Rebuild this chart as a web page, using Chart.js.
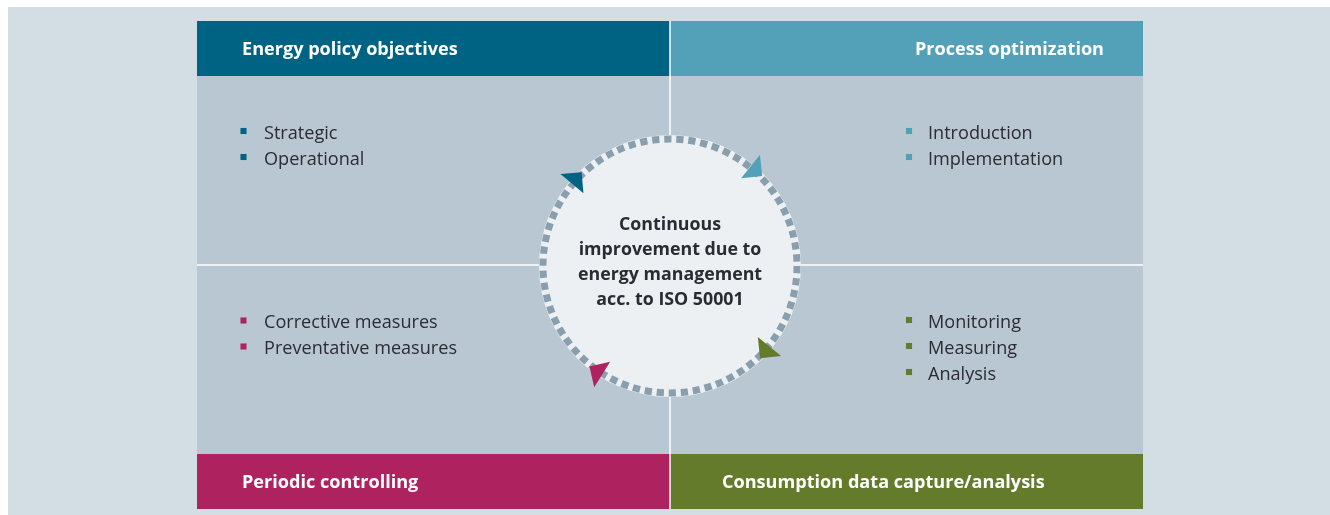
<!DOCTYPE html>
<html>
<head>
<meta charset="utf-8">
<script src="https://cdn.jsdelivr.net/npm/chart.js@4.4.1/dist/chart.umd.min.js"></script>
<style>
  body { margin: 0; background: #ffffff; overflow: hidden; }
  #wrap { width: 1330px; height: 515px; }
</style>
</head>
<body>
<div id="wrap"><canvas id="cycle" width="1330" height="515"></canvas></div>
<script>
// Quadrant titles (top-left, top-right, bottom-left, bottom-right)
const headers = ['Energy policy objectives', 'Process optimization', 'Periodic controlling', 'Consumption data capture/analysis'];
const headerColors = ['#006384', '#52a1b9', '#ae2260', '#647b2c'];

// Bullet items per quadrant
const itemsTopLeft = ['Strategic', 'Operational'];
const itemsTopRight = ['Introduction', 'Implementation'];
const itemsBottomLeft = ['Corrective measures', 'Preventative measures'];
const itemsBottomRight = ['Monitoring', 'Measuring', 'Analysis'];

// Centre text
const centerLines = ['Continuous', 'improvement due to', 'energy management', 'acc. to ISO 50001'];

// Layout (pixels in scale units)
const L = {
  bgLeft: 8, bgTop: 7,
  left: 197, right: 1143, top: 21, bottom: 509, midX: 670, midY: 265, headH: 55,
  cx: 670, cy: 266, fillR: 131, ringR: 127,
  lineH: 26
};
// where each quadrant list starts: marker x, text x, first marker y
const listPos = [
  { mx: 243.5, tx: 264, y: 131 },
  { mx: 909, tx: 928, y: 131 },
  { mx: 243.5, tx: 264, y: 320.5 },
  { mx: 909, tx: 928, y: 320 }
];
// arrow head on the ring for each quadrant (degrees, screen coords, clockwise flow)
const arrowAngles = [220, 309, 122, 39];

const lists = [itemsTopLeft, itemsTopRight, itemsBottomLeft, itemsBottomRight];

const datasets = lists.map(function (items, q) {
  return {
    label: headers[q],
    data: items.map(function (t, i) { return { x: listPos[q].mx, y: listPos[q].y + i * L.lineH, text: t }; }),
    pointStyle: 'rect',
    pointRadius: 4.3,
    backgroundColor: headerColors[q],
    borderWidth: 0,
    showLine: false
  };
});

const diagramPlugin = {
  id: 'diagram',
  beforeDatasetsDraw(chart) {
    const ctx = chart.ctx;
    const xs = chart.scales.x, ys = chart.scales.y;
    const px = v => xs.getPixelForValue(v);
    const py = v => ys.getPixelForValue(v);
    ctx.save();
    // page background
    ctx.fillStyle = '#ffffff';
    ctx.fillRect(0, 0, chart.width, chart.height);
    ctx.fillStyle = '#d3dee4';
    ctx.fillRect(px(L.bgLeft), py(L.bgTop), px(1330) - px(L.bgLeft), py(515) - py(L.bgTop));
    // panel
    ctx.fillStyle = '#b9c7d2';
    ctx.fillRect(px(L.left), py(L.top), px(L.right) - px(L.left), py(L.bottom) - py(L.top));
    // header bars
    const boxes = [
      [L.left, L.top, L.midX, L.top + L.headH],
      [L.midX, L.top, L.right, L.top + L.headH],
      [L.left, L.bottom - L.headH, L.midX, L.bottom],
      [L.midX, L.bottom - L.headH, L.right, L.bottom]
    ];
    boxes.forEach(function (b, i) {
      ctx.fillStyle = headerColors[i];
      ctx.fillRect(px(b[0]), py(b[1]), px(b[2]) - px(b[0]), py(b[3]) - py(b[1]));
    });
    // white dividers
    ctx.strokeStyle = '#ffffff';
    ctx.lineWidth = 1.5;
    ctx.beginPath();
    ctx.moveTo(px(L.midX), py(L.top));
    ctx.lineTo(px(L.midX), py(L.bottom));
    ctx.moveTo(px(L.left), py(L.midY));
    ctx.lineTo(px(L.right), py(L.midY));
    ctx.stroke();
    // centre disc
    const cx = px(L.cx), cy = py(L.cy);
    ctx.fillStyle = '#ecf0f3';
    ctx.beginPath();
    ctx.arc(cx, cy, L.fillR, 0, Math.PI * 2);
    ctx.fill();
    // dashed ring
    const n = 66;
    const per = 2 * Math.PI * L.ringR / n;
    ctx.strokeStyle = '#8a9fae';
    ctx.lineWidth = 7;
    ctx.setLineDash([per * 0.6, per * 0.4]);
    ctx.beginPath();
    ctx.arc(cx, cy, L.ringR, 0, Math.PI * 2);
    ctx.stroke();
    ctx.setLineDash([]);
    // arrow heads
    arrowAngles.forEach(function (deg, i) {
      const a = deg * Math.PI / 180;
      const r = L.ringR + 1;
      const bx = cx + r * Math.cos(a), by = cy + r * Math.sin(a);
      const rx = Math.cos(a), ry = Math.sin(a);
      const tx = -Math.sin(a), ty = Math.cos(a);
      ctx.fillStyle = headerColors[i];
      ctx.beginPath();
      ctx.moveTo(bx + rx * 15, by + ry * 15);
      ctx.lineTo(bx + tx * 15, by + ty * 15);
      ctx.lineTo(bx - rx * 15, by - ry * 15);
      ctx.closePath();
      ctx.fill();
    });
    ctx.restore();
  },
  afterDatasetsDraw(chart) {
    const ctx = chart.ctx;
    const xs = chart.scales.x, ys = chart.scales.y;
    const px = v => xs.getPixelForValue(v);
    const py = v => ys.getPixelForValue(v);
    ctx.save();
    // header titles
    ctx.fillStyle = '#ffffff';
    ctx.font = 'bold 18.1px "Open Sans"';
    ctx.textBaseline = 'alphabetic';
    ctx.textAlign = 'left';
    ctx.fillText(headers[0], px(242), py(55));
    ctx.fillText(headers[2], px(242), py(488));
    ctx.fillText(headers[3], px(722), py(488));
    ctx.textAlign = 'right';
    ctx.fillText(headers[1], px(1104), py(55));
    // bullet labels
    ctx.textAlign = 'left';
    ctx.fillStyle = '#2b2b33';
    ctx.font = '18.1px "Open Sans"';
    chart.data.datasets.forEach(function (ds, q) {
      ds.data.forEach(function (d) {
        ctx.fillText(d.text, px(listPos[q].tx), py(d.y + 7.5));
      });
    });
    // centre text
    ctx.textAlign = 'center';
    ctx.font = 'bold 17.8px "Open Sans"';
    centerLines.forEach(function (t, i) {
      ctx.fillText(t, px(L.cx), py(230 + i * 25));
    });
    ctx.restore();
  }
};

new Chart(document.getElementById('cycle').getContext('2d'), {
  type: 'scatter',
  data: { datasets: datasets },
  options: {
    responsive: false,
    animation: false,
    layout: { padding: 0, autoPadding: false },
    plugins: { legend: { display: false }, tooltip: { enabled: false } },
    scales: {
      x: { type: 'linear', min: 0, max: 1330, display: false },
      y: { type: 'linear', min: 0, max: 515, reverse: true, display: false }
    }
  },
  plugins: [diagramPlugin]
});
</script>
</body>
</html>
